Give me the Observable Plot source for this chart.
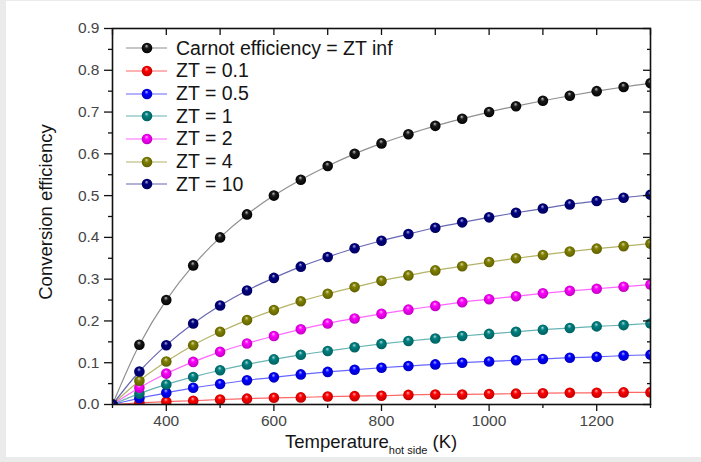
<!DOCTYPE html>
<html><head><meta charset="utf-8">
<script src="https://cdn.jsdelivr.net/npm/d3@7"></script>
<script src="https://cdn.jsdelivr.net/npm/@observablehq/plot@0.6"></script>
<style>
html,body{margin:0;padding:0;background:#ebebeb;}
#wrap{position:relative;width:701px;height:462px;overflow:hidden;}
#panel{position:absolute;left:6px;top:1px;width:695px;height:456px;background:#fff;}
#chart{position:absolute;left:0;top:0;}
#legend{position:absolute;left:124px;top:37px;font-family:"Liberation Sans",Arial,sans-serif;font-size:19.5px;color:#151515;}
.row{display:flex;align-items:center;height:22.65px;white-space:nowrap;}
.row svg{flex:none;}
</style></head>
<body>
<svg width="0" height="0" style="position:absolute"><defs id="defs"></defs></svg>
<div id="wrap"><div id="panel"></div><div id="chart"></div><div id="legend"></div></div>
<script>
// ---- data ----
const temps = [300,350,400,450,500,550,600,650,700,750,800,850,900,950,1000,1050,1100,1150,1200,1250,1300];
const carnot = [0,0.143,0.250,0.333,0.400,0.455,0.500,0.538,0.571,0.600,0.625,0.647,0.667,0.684,0.700,0.714,0.727,0.739,0.750,0.760,0.769];
const zt01 = [0,0.004,0.007,0.009,0.012,0.014,0.016,0.017,0.019,0.020,0.021,0.023,0.024,0.024,0.025,0.026,0.027,0.028,0.028,0.029,0.029];
const zt05 = [0,0.015,0.028,0.040,0.049,0.058,0.065,0.072,0.078,0.083,0.088,0.092,0.096,0.100,0.103,0.106,0.109,0.112,0.114,0.117,0.119];
const zt1 = [0,0.026,0.048,0.066,0.082,0.096,0.108,0.119,0.128,0.137,0.145,0.152,0.158,0.164,0.169,0.174,0.179,0.183,0.187,0.190,0.194];
const zt2 = [0,0.040,0.074,0.102,0.126,0.146,0.164,0.180,0.194,0.206,0.217,0.227,0.236,0.245,0.252,0.259,0.266,0.272,0.277,0.282,0.287];
const zt4 = [0,0.057,0.103,0.142,0.174,0.202,0.226,0.247,0.265,0.281,0.296,0.309,0.321,0.331,0.341,0.350,0.358,0.366,0.373,0.379,0.385];
const zt10 = [0,0.079,0.142,0.194,0.237,0.273,0.303,0.330,0.353,0.374,0.392,0.408,0.423,0.436,0.448,0.459,0.469,0.479,0.487,0.495,0.502];
const seriesNames = ["Carnot efficiency = ZT inf","ZT = 0.1","ZT = 0.5","ZT = 1","ZT = 2","ZT = 4","ZT = 10"];
const seriesValues = [carnot, zt01, zt05, zt1, zt2, zt4, zt10];
const seriesColors = ["#000000","#ff0000","#0000ff","#008080","#ff00ff","#808000","#000080"];
const lineColors = ["#444444","#ff0000","#0000ff","#008080","#ff00ff","#808000","#000080"];
const xMajor = [400,600,800,1000,1200];
const xMinor = [300,500,700,900,1100,1300];
const xAll = [300,400,500,600,700,800,900,1000,1100,1200,1300];
const yMajor = [0,0.1,0.2,0.3,0.4,0.5,0.6,0.7,0.8,0.9];
const yMinor = [0.05,0.15,0.25,0.35,0.45,0.55,0.65,0.75,0.85];

// ---- gradients for sphere-like markers ----
const defs = d3.select("#defs");
seriesColors.forEach((c, i) => {
  const col = d3.color(c);
  const light = d3.interpolateRgb(c, "#ffffff")(i === 0 ? 0.75 : 0.7);
  const dark = i === 0 ? "#000" : col.darker(0.9).formatHex();
  const g = defs.append("radialGradient").attr("id", "grad" + i)
    .attr("cx", "50%").attr("cy", "50%").attr("r", "55%").attr("fx", "45%").attr("fy", "28%");
  g.append("stop").attr("offset", "0").attr("stop-color", light);
  g.append("stop").attr("offset", "0.35").attr("stop-color", i === 0 ? "#1a1a1a" : c);
  g.append("stop").attr("offset", "1").attr("stop-color", dark);
});

const table = seriesNames.flatMap((name, i) => temps.map((t, j) => ({series: name, T: t, eff: seriesValues[i][j]})));

const marks = [];
seriesNames.forEach((name, i) => {
  marks.push(Plot.line(table.filter(d => d.series === name), {x: "T", y: "eff", stroke: lineColors[i], strokeWidth: 1.2, strokeOpacity: 0.6, curve: "catmull-rom", clip: true}));
});
seriesNames.forEach((name, i) => {
  marks.push(Plot.dot(table.filter(d => d.series === name), {x: "T", y: "eff", r: 5.3, fill: `url(#grad${i})`, stroke: "none", clip: true}));
});

const axisStroke = "#111";
const labelFill = "#454545";
const chart = Plot.plot({
  width: 701, height: 462,
  marginLeft: 112, marginRight: 51, marginTop: 28, marginBottom: 58,
  style: {fontFamily: "'Liberation Sans', Arial, sans-serif", background: "transparent", overflow: "visible"},
  x: {domain: [300, 1300]},
  y: {domain: [0, 0.9]},
  marks: [
    ...marks,
    Plot.axisY(yMajor, {anchor: "left", tickSize: 8, tickPadding: 5, tickFormat: d3.format(".1f"), fontSize: 15.5, stroke: axisStroke, fill: labelFill, strokeWidth: 1.3, label: null}),
    Plot.axisY(yMinor, {anchor: "left", tickSize: 4, fill: "none", stroke: axisStroke, strokeWidth: 1.3, label: null}),
    Plot.axisY(yMajor, {anchor: "right", tickSize: 8, insetRight: 8, fill: "none", stroke: axisStroke, strokeWidth: 1.3, label: null}),
    Plot.axisY(yMinor, {anchor: "right", tickSize: 4, insetRight: 4, fill: "none", stroke: axisStroke, strokeWidth: 1.3, label: null}),
    Plot.axisX(xMajor, {anchor: "bottom", tickSize: 7, tickPadding: 3, tickFormat: d3.format("d"), fontSize: 15.5, stroke: axisStroke, fill: labelFill, strokeWidth: 1.3, label: null}),
    Plot.axisX(xMinor, {anchor: "bottom", tickSize: 4, fill: "none", stroke: axisStroke, strokeWidth: 1.3, label: null}),
    Plot.axisX(xAll, {anchor: "top", tickSize: 6, insetTop: 6, fill: "none", stroke: axisStroke, strokeWidth: 1.3, label: null}),
    Plot.frame({stroke: axisStroke, strokeWidth: 1.6})
  ]
});
document.getElementById("chart").appendChild(chart);

// axis titles
const svg = d3.select(chart);
svg.append("text")
  .attr("transform", "translate(52,212) rotate(-90)")
  .attr("text-anchor", "middle")
  .attr("font-size", 18.5)
  .attr("fill", "#151515")
  .text("Conversion efficiency");
const xt = svg.append("text").attr("x", 285).attr("y", 448).attr("text-anchor", "start")
  .attr("font-size", 18.5).attr("fill", "#151515");
xt.append("tspan").text("Temperature");
xt.append("tspan").attr("font-size", 11).attr("dy", 6).text("hot side");
xt.append("tspan").attr("dy", -6).text("\u00a0(K)");

// legend
const legend = d3.select("#legend");
seriesNames.forEach((name, i) => {
  const row = legend.append("div").attr("class", "row");
  const s = row.append("svg").attr("width", 52).attr("height", 22);
  s.append("line").attr("x1", 2).attr("x2", 43).attr("y1", 11).attr("y2", 11)
    .attr("stroke", lineColors[i]).attr("stroke-width", 1.2).attr("stroke-opacity", 0.6);
  s.append("circle").attr("cx", 23).attr("cy", 11).attr("r", 5.3).attr("fill", `url(#grad${i})`);
  row.append("span").text(name);
});
</script>
</body></html>
